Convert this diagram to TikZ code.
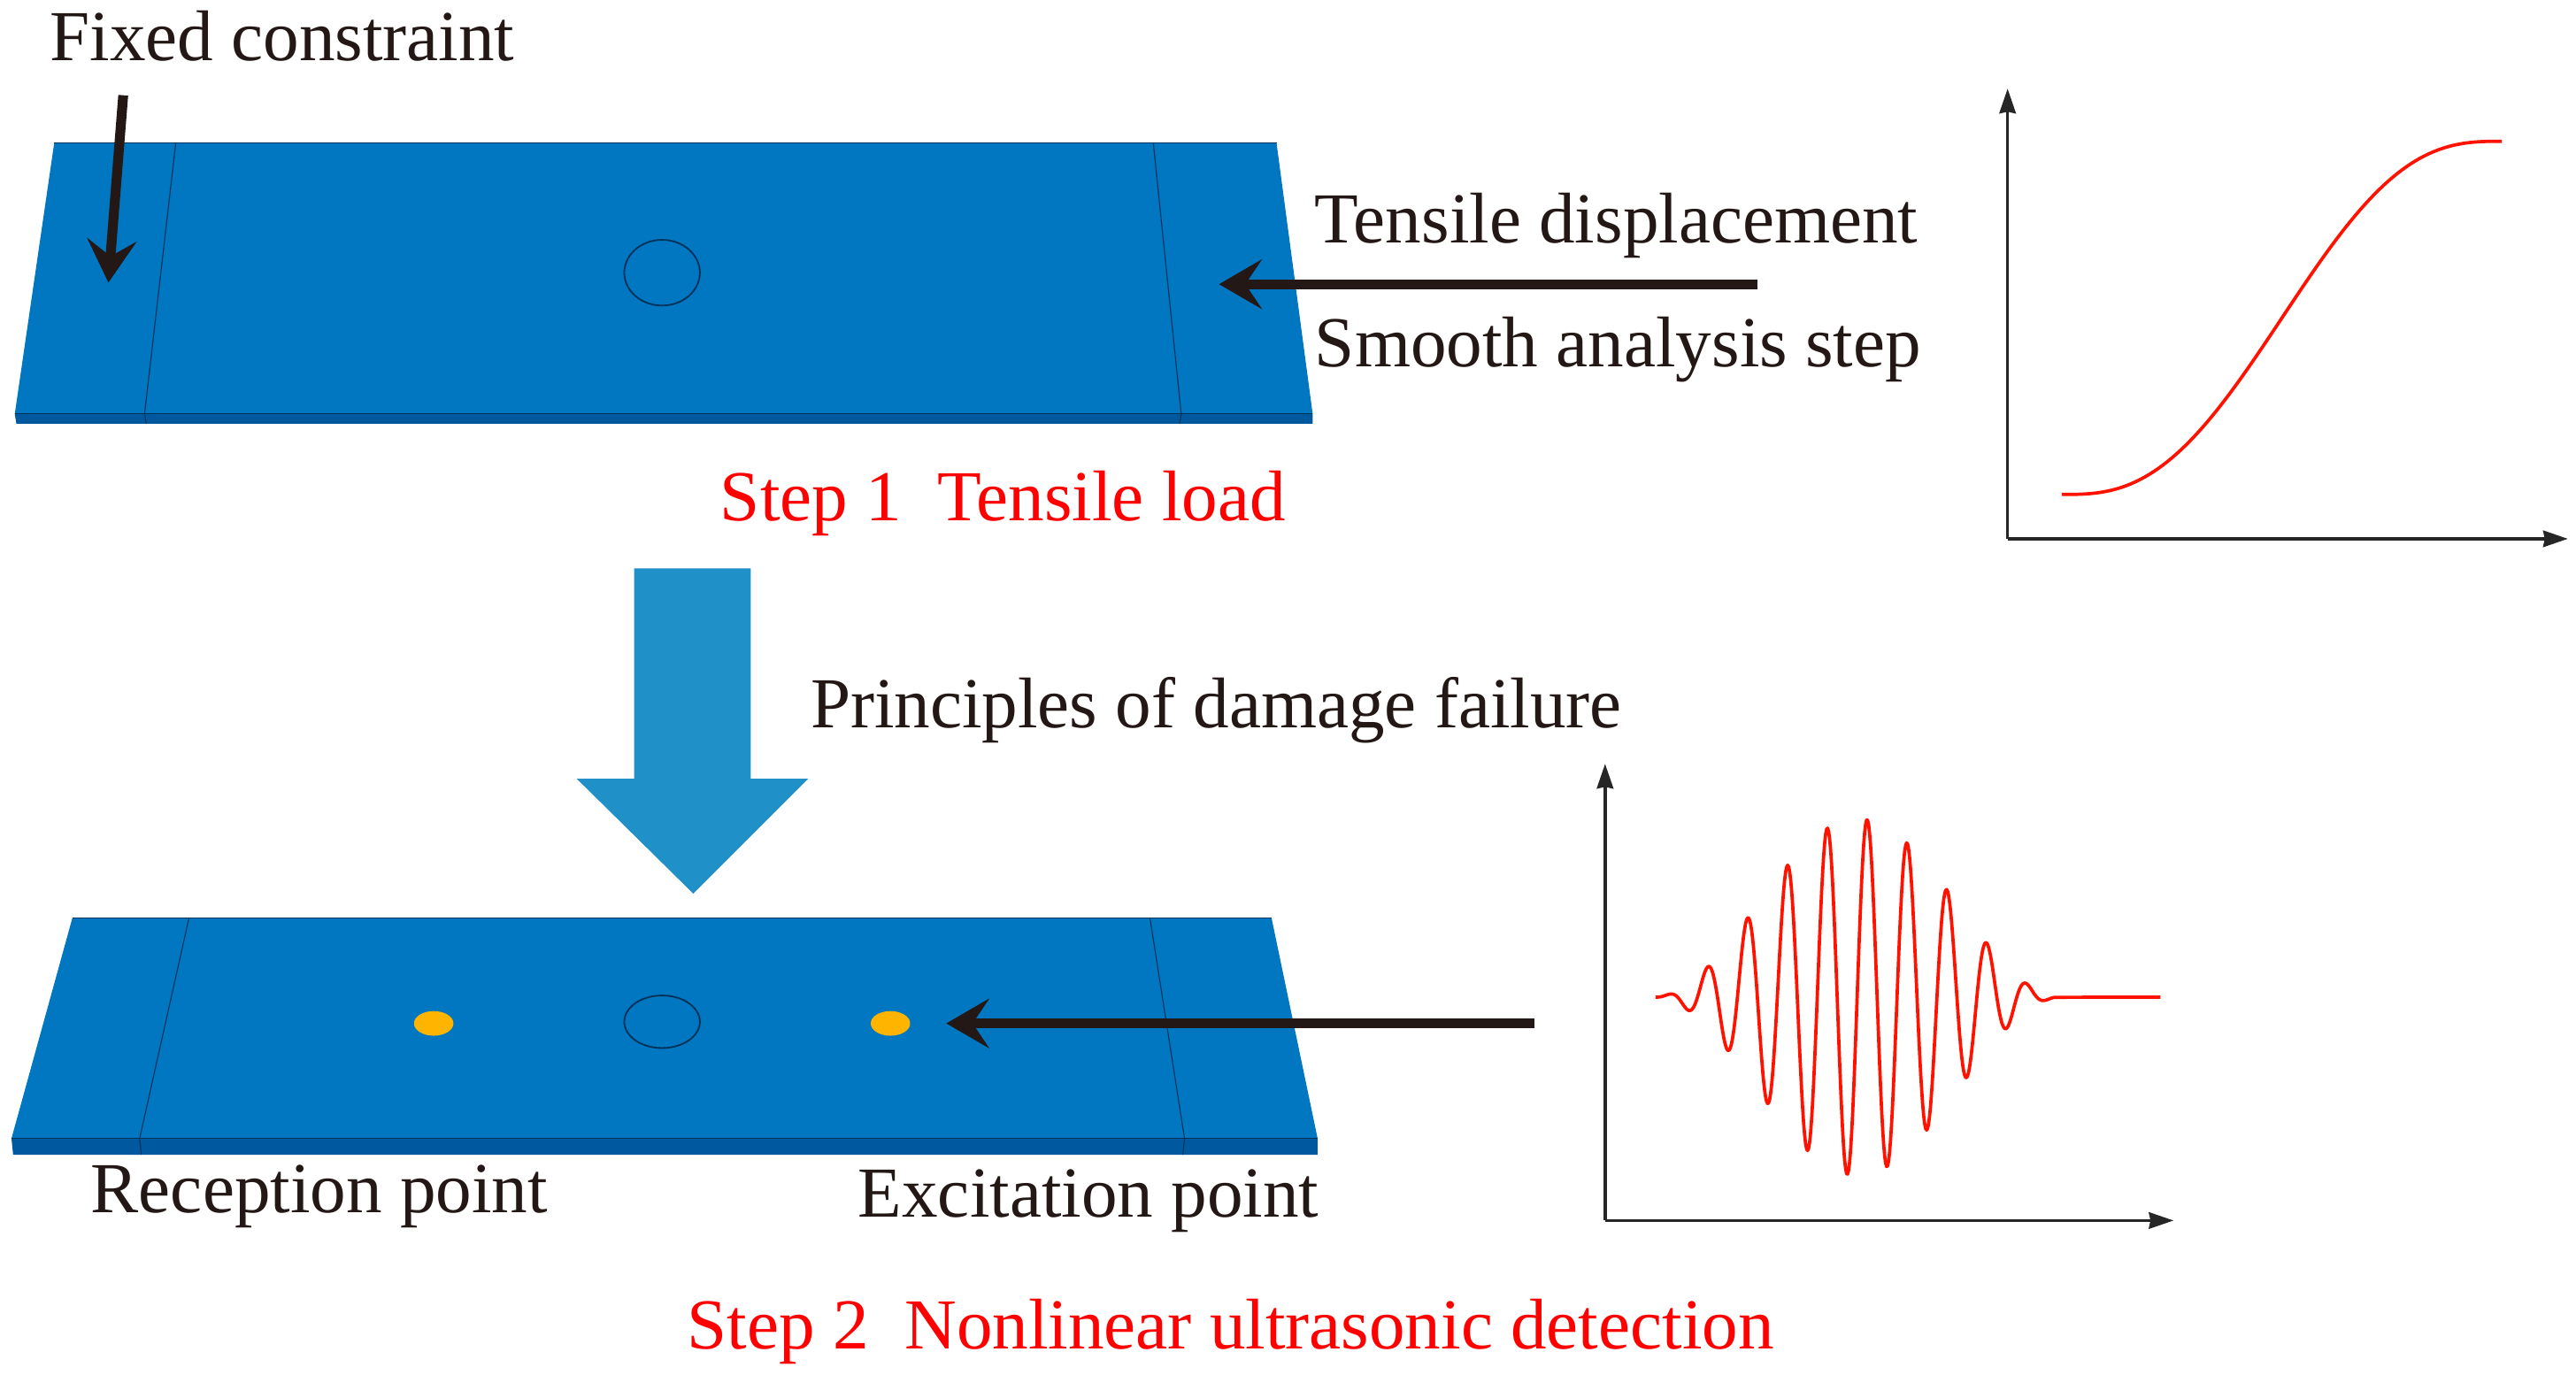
\documentclass[tikz,border=0pt]{standalone}
\usepackage{fontspec}
\setmainfont{Liberation Serif}
\usetikzlibrary{arrows.meta}

\begin{document}
\begin{tikzpicture}[x=0.5pt, y=-0.5pt,
    lbl/.style={anchor=base west, inner sep=0pt, text=inkblack, font=\fontsize{21.85}{26}\selectfont},
    steplbl/.style={lbl, text=red},
    plate/.style={fill=plateblue},
    side/.style={fill=plateside},
    seam/.style={draw=seamblue, line width=0.3pt},
    bigarrow/.style={-{Stealth[length=13pt, width=15pt, inset=5pt]}, inkblack, line width=3pt},
    axis/.style={-{Stealth[length=7.5pt, width=5pt, inset=0.5pt]}, black!85, line width=0.9pt},
    curve/.style={red!85!orange, line width=1pt, line join=round}]
    \definecolor{inkblack}{RGB}{35,24,21}
    \definecolor{plateblue}{RGB}{0,119,192}
    \definecolor{plateside}{RGB}{0,88,158}
    \definecolor{seamblue}{RGB}{0,50,90}
    \definecolor{flowblue}{RGB}{32,144,200}
    \definecolor{dotorange}{RGB}{255,180,0}

    \useasboundingbox (0,0) rectangle (1568,837);

    % Draw upper plate
    \fill[side] (9,252) -- (799,252) -- (799,258) -- (10,258) -- cycle;
    \fill[plate] (33,87) -- (777,87) -- (799,252) -- (9,252) -- cycle;
    \draw[seam] (33,87) -- (777,87);
    \draw[seam] (9,252) -- (799,252);
    \draw[seam] (107,87) -- (88,252) -- (89,258);
    \draw[seam] (702,87) -- (719,252) -- (718,258);
    \draw[seam, line width=0.5pt] (403,166) ellipse (23 and 20);

    % Draw lower plate
    \fill[side] (7,693) -- (802,693) -- (802,703) -- (8,703) -- cycle;
    \fill[plate] (44,559) -- (774,559) -- (802,693) -- (7,693) -- cycle;
    \draw[seam] (44,559) -- (774,559);
    \draw[seam] (7,693) -- (802,693);
    \draw[seam] (115,559) -- (85,693) -- (86,703);
    \draw[seam] (700,559) -- (721,693) -- (720,703);
    \draw[seam, line width=0.5pt] (403,622) ellipse (23 and 16);
    \fill[dotorange] (264,623) ellipse (12 and 7.5);
    \fill[dotorange] (542,623) ellipse (12 and 7.5);

    % Draw flow arrow
    \fill[flowblue] (386,346) -- (457,346) -- (457,474) -- (492,474)
        -- (422,544) -- (351,474) -- (386,474) -- cycle;

    % Draw labels
    \node[lbl] (fixed) at (30,37) {Fixed constraint};
    \node[lbl] (tensile) at (800,148) {Tensile displacement};
    \node[lbl] (smooth) at (800,223) {Smooth analysis step};
    \node[steplbl] (step1) at (438,317) {Step 1\ \ Tensile load};
    \node[lbl] (damage) at (493,443) {Principles of damage failure};
    \node[lbl] (reception) at (55,738) {Reception point};
    \node[lbl] (excitation) at (522,741) {Excitation point};
    \node[steplbl] (step2) at (418,821) {Step 2\ \ Nonlinear ultrasonic detection};

    % Draw load arrows
    \coordinate (a1) at (75,58);
    \coordinate (a2) at (66,172);
    \coordinate (b1) at (1070,173);
    \coordinate (b2) at (742,173);
    \coordinate (c1) at (934,623);
    \coordinate (c2) at (576,623);
    \draw[bigarrow] (a1) -- (a2);
    \draw[bigarrow] (b1) -- (b2);
    \draw[bigarrow] (c1) -- (c2);

    % Draw upper chart
    \coordinate (o1) at (1222,328);
    \coordinate (y1) at (1222,54);
    \coordinate (x1) at (1563,328);
    \draw[axis] (o1) -- (y1);
    \draw[axis] (o1) -- (x1);
    \draw[curve] plot[domain=0:1, samples=80, smooth]
        ({1255+268*\x}, {301-215*\x*\x*\x*(10-15*\x+6*\x*\x)});

    % Draw lower chart
    \coordinate (o2) at (977,743);
    \coordinate (y2) at (977,465);
    \coordinate (x2) at (1323,743);
    \draw[axis] (o2) -- (y2);
    \draw[axis] (o2) -- (x2);
    \draw[curve] plot[domain=-123:120, samples=400]
        ({1130.7+\x}, {607-108.7*cos(0.72*\x)*cos(0.72*\x)*cos(14.82*(\x-5.8))})
        -- (1315,607);
\end{tikzpicture}
\end{document}
